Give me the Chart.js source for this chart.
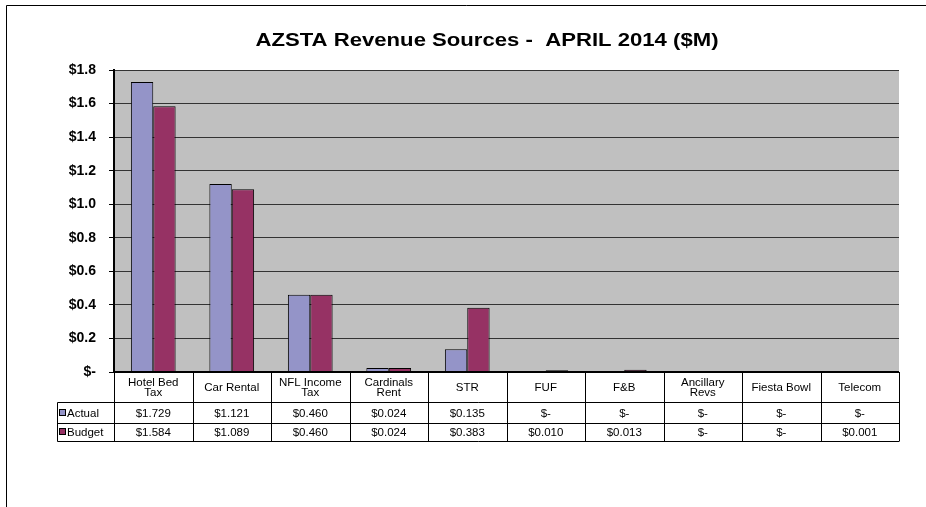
<!DOCTYPE html>
<html>
<head>
<meta charset="utf-8">
<script src="https://cdn.jsdelivr.net/npm/chart.js@4"></script>
<style>
  html, body { margin: 0; padding: 0; background: #fff; }
  #wrap { width: 926px; height: 507px; }
</style>
</head>
<body>
<div id="wrap"><canvas id="myChart" width="926" height="507"></canvas></div>
<script>
const categories = [["Hotel Bed", "Tax"], "Car Rental", ["NFL Income", "Tax"], ["Cardinals", "Rent"], "STR", "FUF", "F&B", ["Ancillary", "Revs"], "Fiesta Bowl", "Telecom"];
const actual = [1.729, 1.121, 0.460, 0.024, 0.135, 0, 0, 0, 0, 0];
const budget = [1.584, 1.089, 0.460, 0.024, 0.383, 0.010, 0.013, 0, 0, 0.001];
const seriesNames = ["Actual", "Budget"];
const seriesColors = ["#9494C8", "#963264"];

const titleText = "AZSTA Revenue Sources -  APRIL 2014 ($M)";

function money(v) {
  return v === 0 ? "$-" : "$" + v.toFixed(3);
}

/* ---------- frame, plot background, title ---------- */
const backdrop = {
  id: "backdrop",
  beforeDraw(chart) {
    const { ctx, chartArea } = chart;
    ctx.save();
    ctx.fillStyle = "#ffffff";
    ctx.fillRect(0, 0, chart.width, chart.height);
    ctx.strokeStyle = "#000000";
    ctx.lineWidth = 1;
    ctx.beginPath();
    ctx.moveTo(6.5, chart.height);
    ctx.lineTo(6.5, 5.5);
    ctx.lineTo(chart.width, 5.5);
    ctx.stroke();

    ctx.fillStyle = "#C0C0C0";
    ctx.fillRect(chartArea.left, chartArea.top, chartArea.right - chartArea.left, chartArea.bottom - chartArea.top);

    // Excel renders the title a bit wider than Arial, so stretch it
    ctx.fillStyle = "#000000";
    ctx.font = "bold 18px Arial, 'Liberation Sans', sans-serif";
    ctx.textAlign = "center";
    ctx.textBaseline = "middle";
    const w = ctx.measureText(titleText).width;
    ctx.translate(487, 41);
    ctx.scale(463 / w, 1);
    ctx.fillText(titleText, 0, 0);
    ctx.restore();
  }
};

/* ---------- data table under the plot ---------- */
const dataTable = {
  id: "dataTable",
  afterDraw(chart) {
    const { ctx, chartArea } = chart;
    const x = chart.scales.x;
    const n = categories.length;
    const colW = (x.right - x.left) / n;
    const top = chartArea.bottom;
    const headBottom = top + 30;
    const row1 = headBottom + 21;
    const row2 = row1 + 18;
    const legendLeft = 57.5;

    ctx.save();
    ctx.strokeStyle = "#000000";
    ctx.lineWidth = 1;

    // horizontal lines
    ctx.beginPath();
    [headBottom, row1, row2].forEach(y => {
      ctx.moveTo(legendLeft, Math.round(y) + 0.5);
      ctx.lineTo(x.right, Math.round(y) + 0.5);
    });
    // vertical lines
    for (let i = 0; i <= n; i++) {
      const px = Math.round(x.left + i * colW) + 0.5;
      ctx.moveTo(px, top);
      ctx.lineTo(px, Math.round(row2) + 0.5);
    }
    ctx.moveTo(legendLeft, Math.round(headBottom) + 0.5);
    ctx.lineTo(legendLeft, Math.round(row2) + 0.5);
    ctx.stroke();

    // axis line
    ctx.lineWidth = 2;
    ctx.beginPath();
    ctx.moveTo(x.left - 1, top);
    ctx.lineTo(x.right, top);
    ctx.stroke();

    ctx.fillStyle = "#000000";
    ctx.font = "11.5px Arial, 'Liberation Sans', sans-serif";
    ctx.textAlign = "center";
    ctx.textBaseline = "middle";

    categories.forEach((c, i) => {
      const cx = x.getPixelForValue(i);
      const lines = Array.isArray(c) ? c : [c];
      const mid = (top + headBottom) / 2 + 1;
      lines.forEach((t, j) => {
        ctx.fillText(t, cx, mid + (j - (lines.length - 1) / 2) * 10.5);
      });
      ctx.fillText(money(actual[i]), cx, (headBottom + row1) / 2 + 1);
      ctx.fillText(money(budget[i]), cx, (row1 + row2) / 2 + 1);
    });

    // legend keys
    ctx.textAlign = "left";
    [[headBottom, row1], [row1, row2]].forEach(([a, b], k) => {
      const cy = (a + b) / 2;
      ctx.fillStyle = seriesColors[k];
      ctx.fillRect(59.5, Math.round(cy) - 3.5, 6, 6);
      ctx.lineWidth = 1;
      ctx.strokeRect(59.5, Math.round(cy) - 3.5, 6, 6);
      ctx.fillStyle = "#000000";
      ctx.fillText(seriesNames[k], 67, cy + 1);
    });
    ctx.restore();
  }
};

const ctx = document.getElementById("myChart").getContext("2d");

new Chart(ctx, {
  type: "bar",
  data: {
    labels: categories,
    datasets: [
      { label: seriesNames[0], data: actual, backgroundColor: seriesColors[0], borderColor: "#000000", borderWidth: 1 },
      { label: seriesNames[1], data: budget, backgroundColor: seriesColors[1], borderColor: "#000000", borderWidth: 1 }
    ]
  },
  options: {
    responsive: false,
    animation: false,
    devicePixelRatio: 1,
    categoryPercentage: 0.57,
    barPercentage: 1.0,
    layout: { padding: { top: 70, right: 27, bottom: 135, left: 0 } },
    plugins: {
      legend: { display: false },
      tooltip: { enabled: false },
      title: { display: false }
    },
    scales: {
      x: {
        display: false
      },
      y: {
        min: 0,
        max: 1.8,
        afterFit(scale) { scale.width = 114; },
        border: { display: true, color: "#000000", width: 2 },
        grid: { color: "#333333", lineWidth: 1, drawTicks: true, tickLength: 5, tickColor: "#000000" },
        ticks: {
          stepSize: 0.2,
          padding: 13,
          color: "#000000",
          font: { family: "Arial, 'Liberation Sans', sans-serif", size: 14, weight: "bold" },
          callback: v => (v === 0 ? "$-" : "$" + v.toFixed(1))
        }
      }
    }
  },
  plugins: [backdrop, dataTable]
});
</script>
</body>
</html>
